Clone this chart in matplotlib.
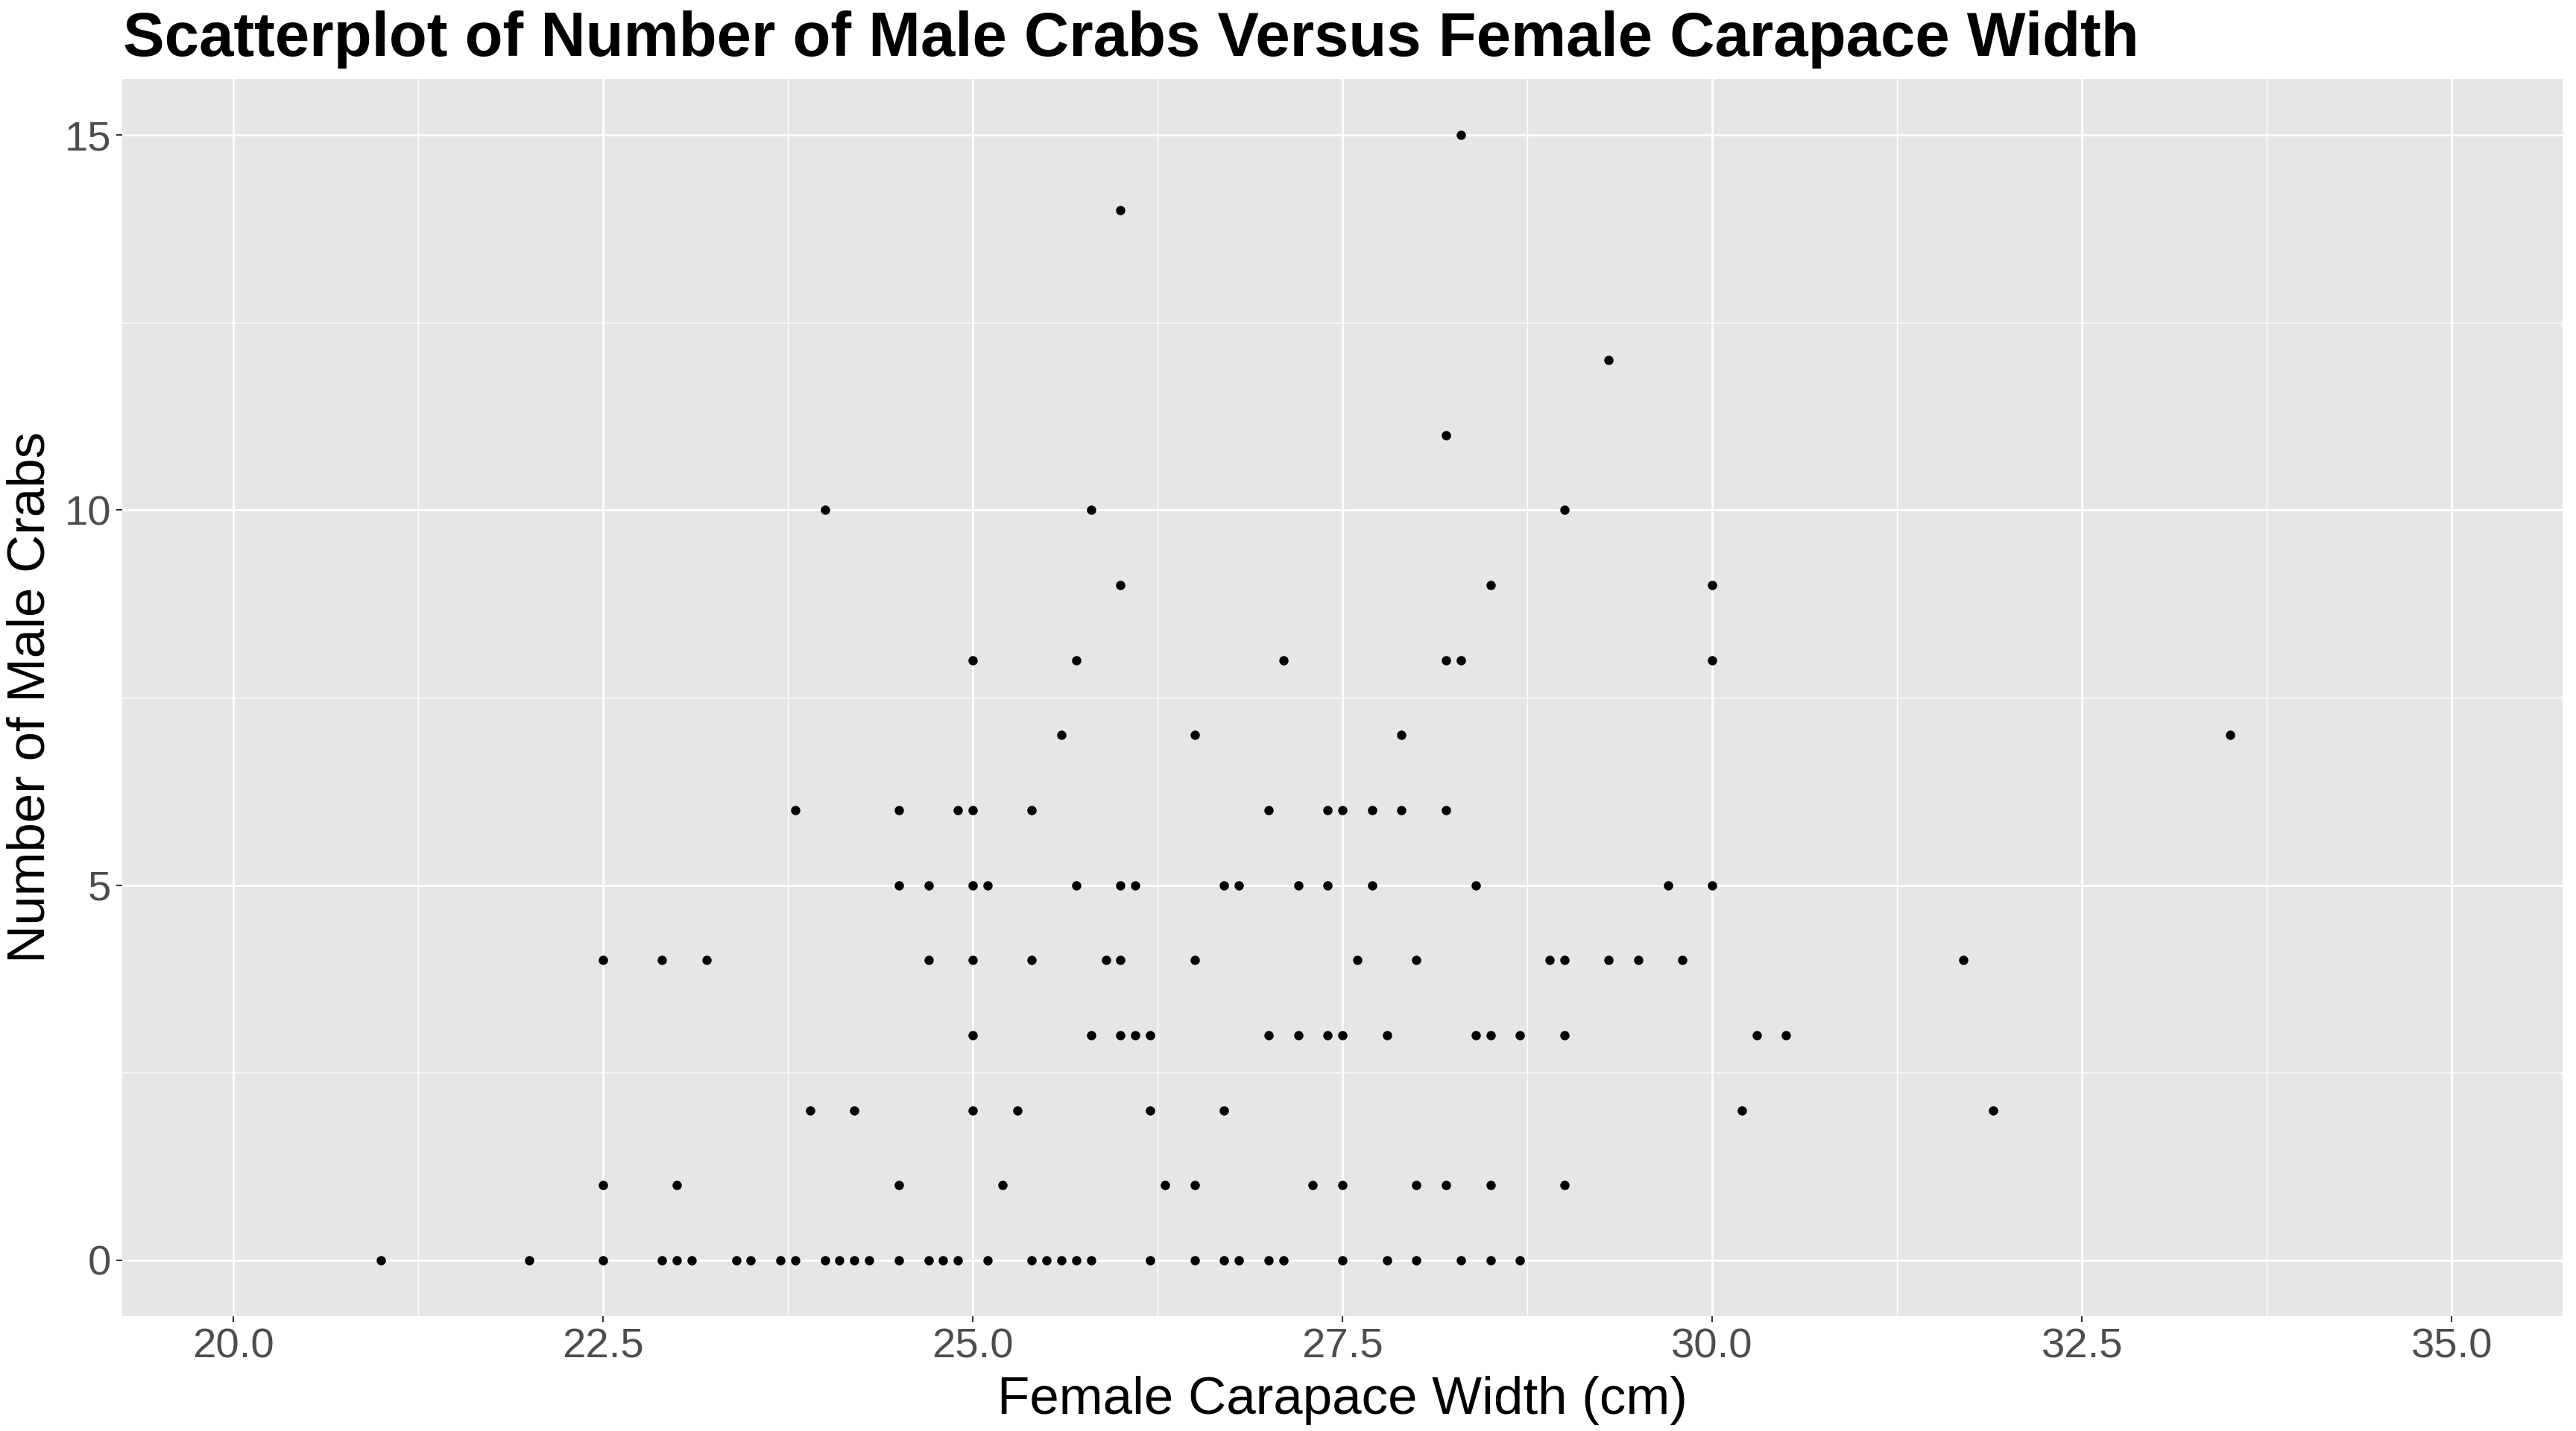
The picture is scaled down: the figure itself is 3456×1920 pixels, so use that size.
import numpy as np
import matplotlib
matplotlib.use("Agg")
import matplotlib.pyplot as plt
from matplotlib.ticker import MultipleLocator

# ----- data -----
width = np.array([
    # 0 satellites
    21.0, 22.0, 22.5, 22.9, 23.0, 23.1, 23.4, 23.5, 23.7, 23.8, 24.0, 24.1,
    24.2, 24.3, 24.5, 24.7, 24.8, 24.9, 25.1, 25.4, 25.5, 25.6, 25.7, 25.8,
    26.2, 26.5, 26.7, 26.8, 27.0, 27.1, 27.5, 27.8, 28.0, 28.3, 28.5, 28.7,
    # 1
    22.5, 23.0, 24.5, 25.2, 26.3, 26.5, 27.3, 27.5, 28.0, 28.2, 28.5, 29.0,
    # 2
    23.9, 24.2, 25.0, 25.3, 26.2, 26.7, 30.2, 31.9,
    # 3
    25.0, 25.8, 26.0, 26.1, 26.2, 27.0, 27.2, 27.4, 27.5, 27.8, 28.4, 28.5,
    28.7, 29.0, 30.3, 30.5,
    # 4
    22.5, 22.9, 23.2, 24.7, 25.0, 25.4, 25.9, 26.0, 26.5, 27.6, 28.0, 28.9,
    29.0, 29.3, 29.5, 29.8, 31.7,
    # 5
    24.5, 24.7, 25.0, 25.1, 25.7, 26.0, 26.1, 26.7, 26.8, 27.2, 27.4, 27.7,
    28.4, 29.7, 30.0,
    # 6
    23.8, 24.5, 24.9, 25.0, 25.4, 27.0, 27.4, 27.5, 27.7, 27.9, 28.2,
    # 7
    25.6, 26.5, 27.9, 33.5,
    # 8
    25.0, 25.7, 27.1, 28.2, 28.3, 30.0,
    # 9
    26.0, 28.5, 30.0,
    # 10
    24.0, 25.8, 29.0,
    # 11, 12, 14, 15
    28.2, 29.3, 26.0, 28.3,
])
satellites = np.array(
    [0] * 36 + [1] * 12 + [2] * 8 + [3] * 16 + [4] * 17 + [5] * 15 +
    [6] * 11 + [7] * 4 + [8] * 6 + [9] * 3 + [10] * 3 + [11, 12, 14, 15]
)

x_ticks = [20.0, 22.5, 25.0, 27.5, 30.0, 32.5, 35.0]
y_ticks = [0, 5, 10, 15]

plt.rcParams['font.family'] = ['Liberation Sans', 'DejaVu Sans']

# ----- figure -----
fig = plt.figure(figsize=(11.52, 6.4), dpi=300)
ax = fig.add_axes([0.0475, 0.0800, 0.9473, 0.8650])
ax.set_facecolor("#E6E6E6")

ax.plot(width, satellites, "o", color="black", markersize=3.0,
        markeredgewidth=0, zorder=3)

ax.set_xticks(x_ticks)
ax.set_xticklabels([f"{t:.1f}" for t in x_ticks])
ax.set_yticks(y_ticks)
ax.xaxis.set_minor_locator(MultipleLocator(1.25))
ax.yaxis.set_minor_locator(MultipleLocator(2.5))
ax.set_xlim(19.25, 35.75)
ax.set_ylim(-0.75, 15.75)

ax.grid(which="major", color="white", linewidth=0.7)
ax.grid(which="minor", color="white", linewidth=0.35)
ax.set_axisbelow(True)
for s in ax.spines.values():
    s.set_visible(False)

ax.tick_params(which="major", length=2.0, width=0.5, color="#333333",
               labelsize=13.5, labelcolor="#4D4D4D", pad=1.6)
ax.tick_params(which="minor", length=0)

ax.set_xlabel("Female Carapace Width (cm)", fontsize=17, labelpad=3)
fig.text(0.012, 0.5125, "Number of Male Crabs", fontsize=17, rotation=90,
         ha="center", va="center")
fig.text(0.0478, 0.961, "Scatterplot of Number of Male Crabs Versus Female Carapace Width",
         fontsize=20, fontweight="bold", ha="left", va="baseline")

fig.savefig("out.png", dpi=300)
